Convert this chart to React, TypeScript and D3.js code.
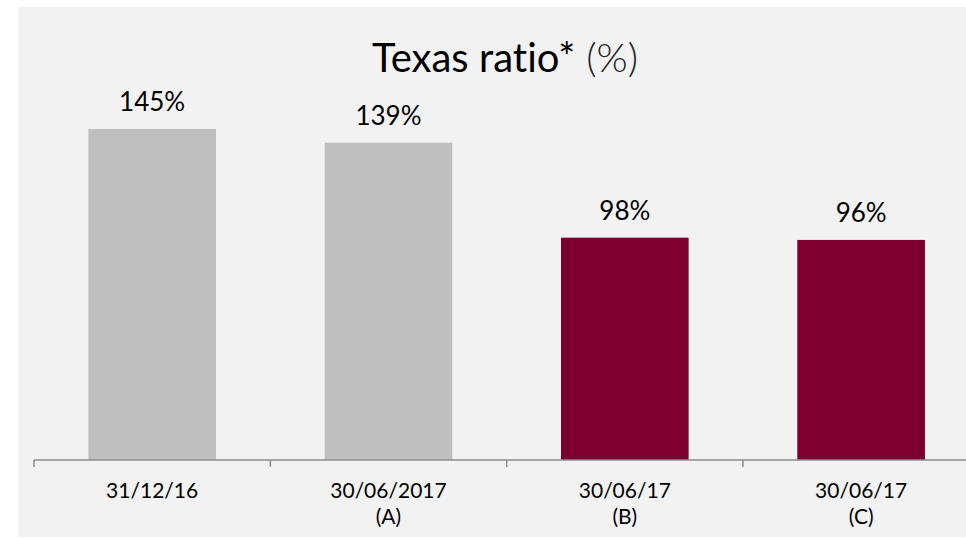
import React from "react";
import * as d3 from "d3";

const categories = ["c1", "c2", "c3", "c4"];
const lineOne = ["31/12/16", "30/06/2017", "30/06/17", "30/06/17"];
const lineTwo = ["", "(A)", "(B)", "(C)"];
const values = [145, 139, 97.4, 96.4];
const valueLabels = ["145%", "139%", "98%", "96%"];
const barColors = ["#bfbfbf", "#bfbfbf", "#7b0030", "#7b0030"];

const W = 966;
const H = 538;

export default function App() {
  const baseY = 460;
  const x = d3.scaleBand<string>().domain(categories).range([34, 979.3]).paddingInner(0.46).paddingOuter(0.23);
  const y = d3.scaleLinear().domain([0, 145]).range([baseY, 129]);
  const step = x.step();
  const tickXs = categories.map((c, i) => 34 + i * step);
  const font = "Lato, 'Open Sans', sans-serif";
  const noLig = { fontVariantLigatures: "none" as const };
  return (
    <div style={{ position: "absolute", left: 0, top: 0 }}>
      <svg width={W} height={H} style={{ display: "block" }}>
        <rect x={0} y={0} width={W} height={H} fill="#ffffff" />
        <rect x={18} y={7} width={W - 18} height={530} fill="#f2f2f2" />
        <text x={505} y={72} textAnchor="middle" fontFamily={font} fontSize={40} fill="#000" style={noLig}>
          <tspan>Texas ratio*</tspan>
          <tspan fontWeight={300} fill="#222"> (%)</tspan>
        </text>
        {categories.map((c, i) => (
          <g key={c}>
            <rect x={x(c)} y={y(values[i])} width={x.bandwidth()} height={baseY - y(values[i])} fill={barColors[i]} />
            <text x={(x(c) as number) + x.bandwidth() / 2} y={y(values[i]) - 18} textAnchor="middle" fontFamily={font} fontSize={26} fill="#000">
              {valueLabels[i]}
            </text>
            <text x={(x(c) as number) + x.bandwidth() / 2} y={498} textAnchor="middle" fontFamily={font} fontSize={21} fill="#000">
              {lineOne[i]}
            </text>
            {lineTwo[i] && (
              <text x={(x(c) as number) + x.bandwidth() / 2} y={524} textAnchor="middle" fontFamily={font} fontSize={21} fill="#000">
                {lineTwo[i]}
              </text>
            )}
          </g>
        ))}
        <line x1={34} x2={W} y1={baseY} y2={baseY} stroke="#8c8c8c" strokeWidth={1.5} />
        {tickXs.map((tx, i) => (
          <line key={i} x1={tx} x2={tx} y1={baseY} y2={baseY + 7} stroke="#8c8c8c" strokeWidth={1.5} />
        ))}
      </svg>
    </div>
  );
}
